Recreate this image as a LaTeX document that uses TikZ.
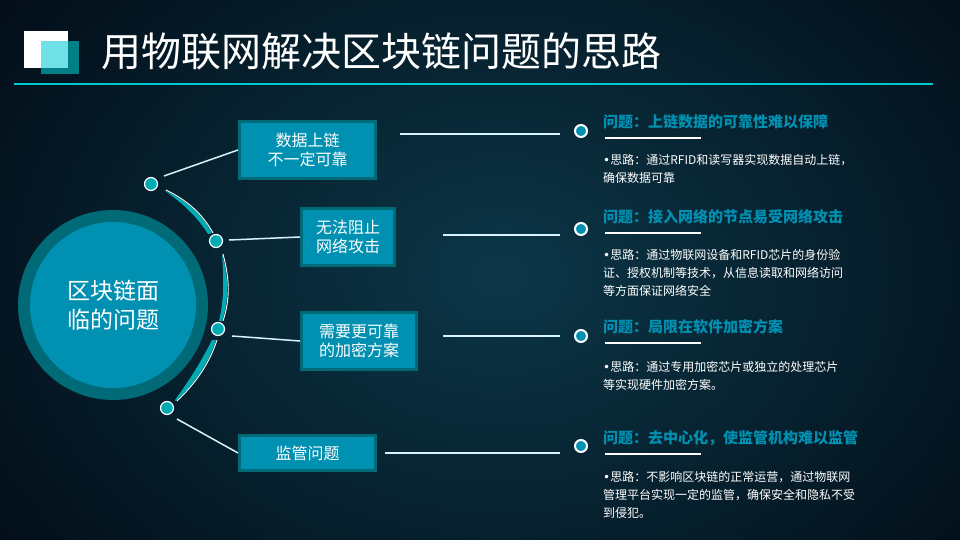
\documentclass[tikz,border=0pt]{standalone}
\usepackage{fontspec}
\setmainfont{Noto Sans CJK SC}
\newfontfamily\bulf{DejaVu Sans}
\begin{document}
\begin{tikzpicture}[x=1pt,y=-1pt,
  box/.style={draw=c1,line width=3pt,fill=c2,text=white,font=\fontsize{16}{19}\selectfont,align=center,inner sep=0pt},
  ldot/.style={circle,fill=c3,draw=white,line width=1.2pt,minimum size=13pt,inner sep=0pt},
  rdot/.style={circle,fill=c2,draw=white,line width=2pt,minimum size=12pt,inner sep=0pt},
  conn/.style={draw=white!85!cyan,line width=1.5pt},
  qtitle/.style={anchor=west,text=c2,font=\fontsize{15}{16}\selectfont\bfseries,inner sep=0pt},
  body/.style={anchor=north west,text=white,font=\fontsize{12}{18}\selectfont,align=left,inner sep=0pt,text width=320pt}]
\definecolor{c1}{HTML}{006A77}
\definecolor{c2}{HTML}{0090B2}
\definecolor{c3}{HTML}{00ABB3}
\definecolor{bgin}{HTML}{0C3748}
\definecolor{bgout}{HTML}{010812}
\useasboundingbox (0,0) rectangle (960,540);
\shade[inner color=bgin,outer color=bgout] (-200,-250) rectangle (1200,800);
% header
\fill[white] (24,31) rectangle (68,68);
\fill[fill={rgb,255:red,0;green,127;blue,134}] (41,41) rectangle (79,74);
\fill[fill={rgb,255:red,110;green,224;blue,230}] (41,41) rectangle (68,68);
\draw[color={rgb,255:red,0;green,200;blue,208},line width=2.5pt] (14,84) -- (933,84);
\node[anchor=west,text=white,font=\fontsize{40}{42}\selectfont,inner sep=0pt] (title) at (101,51) {用物联网解决区块链问题的思路};
% big circle
\fill[c1] (113,305) circle (95);
\node[circle,fill=c2,minimum size=166pt,inner sep=0pt,text=white,font=\fontsize{23}{29}\selectfont,align=center] (center) at (113,305) {区块链面\\临的问题};
% arc crescents
\fill[c3] (164,190) .. controls (192,203) and (205,220) .. (212,233) -- (208,234) .. controls (198,218) and (185,205) .. (164,190) -- cycle;
\fill[c3] (222,254) .. controls (229,280) and (229,300) .. (222,321) -- (219,321) .. controls (224,300) and (224,280) .. (222,254) -- cycle;
\fill[c3] (216,340) .. controls (208,365) and (193,385) .. (176,401) -- (175,400) .. controls (188,382) and (200,364) .. (212,340) -- cycle;
\draw[white,line width=0.9pt] (166,190) .. controls (193,203) and (206,220) .. (213,233);
\draw[white,line width=0.9pt] (223,254) .. controls (230,280) and (230,300) .. (223,321);
\draw[white,line width=0.9pt] (217,340) .. controls (209,365) and (194,385) .. (177,401);
% left dots
\node[ldot] (d1) at (151,184) {};
\node[ldot] (d2) at (216,241) {};
\node[ldot] (d3) at (218,329) {};
\node[ldot] (d4) at (167,408) {};
% boxes
\node[box,minimum width=136pt,minimum height=57pt] (b1) at (307.5,150) {数据上链\\不一定可靠};
\node[box,minimum width=93pt,minimum height=57pt] (b2) at (348,237) {无法阻止\\网络攻击};
\node[box,minimum width=115pt,minimum height=57pt] (b3) at (359,341) {需要更可靠\\的加密方案};
\node[box,minimum width=136pt,minimum height=35pt] (b4) at (307.5,453) {监管问题};
\coordinate (l1) at (164,176); \coordinate (l2) at (229,240);
\coordinate (l3) at (232,336); \coordinate (l4) at (177,419);
\draw[conn] (l1) -- (b1.west);
\draw[conn] (l2) -- (b2.west);
\draw[conn] (l3) -- (b3.west);
\draw[conn] (l4) -- (b4.west);
% right
\node[rdot] (r1) at (581,131) {};
\node[rdot] (r2) at (581,229) {};
\node[rdot] (r3) at (581,336) {};
\node[rdot] (r4) at (581,446) {};
\coordinate (s1) at (400,134); \coordinate (s2) at (443,235);
\coordinate (s3) at (443,336); \coordinate (s4) at (385,453);
\draw[conn] (s1) -- (560,134) coordinate (e1);
\draw[conn] (s2) -- (560,235) coordinate (e2);
\draw[conn] (s3) -- (560,336) coordinate (e3);
\draw[conn] (s4) -- (560,453) coordinate (e4);
\node[qtitle] (q1) at (603,122) {问题：上链数据的可靠性难以保障};
\node[qtitle] (q2) at (603,217) {问题：接入网络的节点易受网络攻击};
\node[qtitle] (q3) at (603,327) {问题：局限在软件加密方案};
\node[qtitle] (q4) at (603,438) {问题：去中心化，使监管机构难以监管};
\foreach \y in {138,233,343,454} \draw[white,line width=1.5pt] (605,\y) -- (701,\y);
\node[body] (t1) at (603,154) {{\bulf•}思路：通过RFID和读写器实现数据自动上链，\\确保数据可靠};
\node[body] (t2) at (603,249) {{\bulf•}思路：通过物联网设备和RFID芯片的身份验\\证、授权机制等技术，从信息读取和网络访问\\等方面保证网络安全};
\node[body] (t3) at (603,361) {{\bulf•}思路：通过专用加密芯片或独立的处理芯片\\等实现硬件加密方案。};
\node[body] (t4) at (603,471) {{\bulf•}思路：不影响区块链的正常运营，通过物联网\\管理平台实现一定的监管，确保安全和隐私不受\\到侵犯。};
\end{tikzpicture}
\end{document}
